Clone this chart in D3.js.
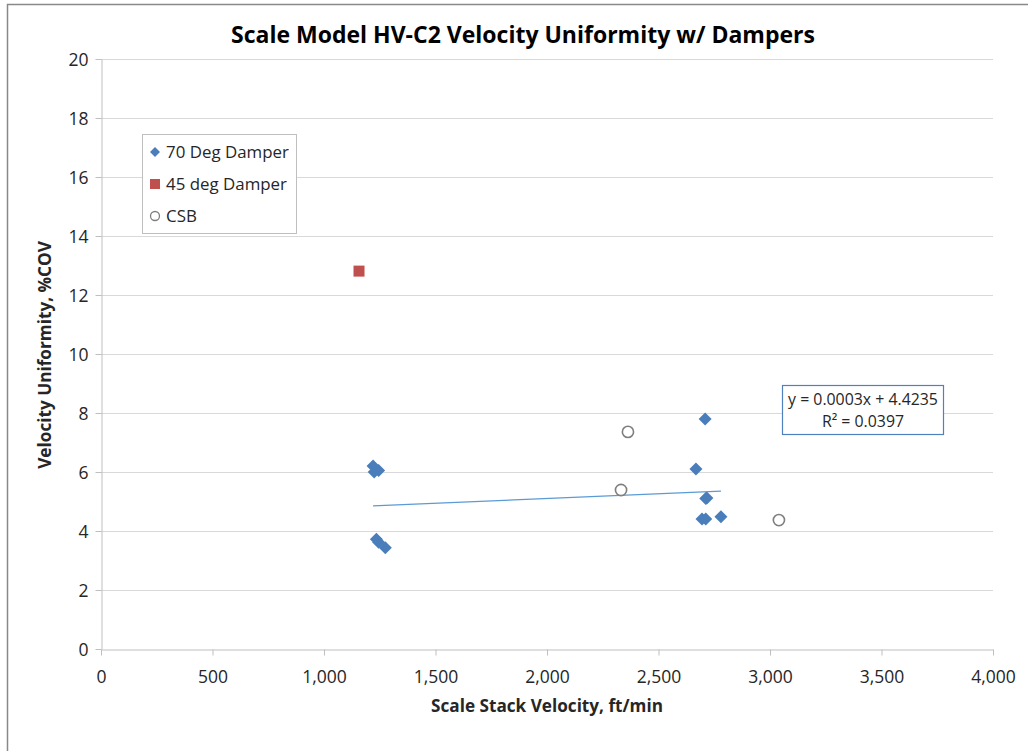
<!DOCTYPE html>
<html><head><meta charset="utf-8">
<script src="https://cdn.jsdelivr.net/npm/d3@7"></script>
<style>body{margin:0;background:#fff}svg{display:block}text{font-family:"Open Sans",sans-serif}</style>
</head><body>
<svg id="c" width="1028" height="751"></svg>
<script>
const xTicks = [0,500,1000,1500,2000,2500,3000,3500,4000];
const yTicks = [0,2,4,6,8,10,12,14,16,18,20];
const seriesNames = ["70 Deg Damper","45 deg Damper","CSB"];
const damper70X = [1220,1245,1225,1235,1245,1275,2709,2668,2717,2712,2695,2712,2780];
const damper70Y = [6.2,6.05,6.0,3.72,3.62,3.43,7.8,6.1,5.12,5.1,4.41,4.41,4.48];
const damper45X = [1157];
const damper45Y = [12.81];
const csbX = [2363,2332,3040];
const csbY = [7.36,5.39,4.37];
const trendLabel = ["y = 0.0003x + 4.4235","R² = 0.0397"];

const svg = d3.select("#c");
function fit(sel, w){
  sel.each(function(){
    const fs = parseFloat(this.style.fontSize);
    const cur = this.getComputedTextLength();
    this.style.fontSize = (fs*w/cur).toFixed(2)+"px";
  });
}
// outer chart border
svg.append("rect").attr("x",7.5).attr("y",4.5).attr("width",1100).attr("height",900)
  .attr("fill","none").attr("stroke","#898989").attr("stroke-width",1.5);

const x = d3.scaleLinear().domain([0,4000]).range([101,993]);
const y = d3.scaleLinear().domain([0,20]).range([649,59]);

// gridlines
svg.append("g").selectAll("line").data(yTicks.filter(d=>d>0)).join("line")
  .attr("x1",x(0)).attr("x2",x(4000)).attr("y1",d=>y(d)+0.5).attr("y2",d=>y(d)+0.5)
  .attr("stroke","#d9d9d9").attr("stroke-width",1);

// axes
const fmt = d3.format(",");
const xAxis = svg.append("g").attr("transform",`translate(0,${y(0)+0.5})`)
  .call(d3.axisBottom(x).tickValues(xTicks).tickFormat(fmt).tickSize(6).tickSizeOuter(0));
const yAxis = svg.append("g").attr("transform",`translate(${x(0)+0.5},0)`)
  .call(d3.axisLeft(y).tickValues(yTicks).tickSize(6).tickSizeOuter(0));
[xAxis,yAxis].forEach(a=>{
  a.select(".domain").attr("stroke","#bfbfbf");
  a.selectAll(".tick line").attr("stroke","#bfbfbf");
  a.selectAll("text").attr("fill","#262626").style("font-size","17.5px").style("font-family","'Open Sans',sans-serif");
});
xAxis.selectAll("text").attr("dy","0").attr("y",33.5);
yAxis.selectAll("text").attr("x",-13).attr("dy","0.36em");

// trendline (least squares over 70 deg series)
const n = damper70X.length;
const mx = d3.mean(damper70X), my = d3.mean(damper70Y);
let sxy=0, sxx=0;
for(let i=0;i<n;i++){sxy+=(damper70X[i]-mx)*(damper70Y[i]-my);sxx+=(damper70X[i]-mx)**2;}
const slope = sxy/sxx, icpt = my - slope*mx;
const [x0,x1] = d3.extent(damper70X);
svg.append("line").attr("x1",x(x0)).attr("y1",y(icpt+slope*x0)).attr("x2",x(x1)).attr("y2",y(icpt+slope*x1))
  .attr("stroke","#5b9bd5").attr("stroke-width",1.2);

// markers
function diamondPath(s){return `M0,${-s}L${s},0L0,${s}L${-s},0Z`;}
svg.append("g").selectAll("path").data(d3.range(n)).join("path")
  .attr("d",diamondPath(6.5)).attr("transform",i=>`translate(${x(damper70X[i])},${y(damper70Y[i])})`)
  .attr("fill","#4a7ebb");
svg.append("g").selectAll("rect").data(d3.range(damper45X.length)).join("rect")
  .attr("x",i=>x(damper45X[i])-5.5).attr("y",i=>y(damper45Y[i])-5.5).attr("width",11).attr("height",11)
  .attr("fill","#c0504d");
svg.append("g").selectAll("circle").data(d3.range(csbX.length)).join("circle")
  .attr("cx",i=>x(csbX[i])).attr("cy",i=>y(csbY[i])).attr("r",5.6)
  .attr("fill","#fff").attr("stroke","#7f7f7f").attr("stroke-width",1.6);

// trend label box
svg.append("rect").attr("x",782.5).attr("y",385.5).attr("width",161).attr("height",49)
  .attr("fill","#fff").attr("stroke","#4f81bd").attr("stroke-width",1.2);
const eq = svg.append("g").selectAll("text").data(trendLabel).join("text")
  .attr("x",863).attr("y",(d,i)=>405+i*22).attr("text-anchor","middle")
  .style("font-size","16px").attr("fill","#262626").text(d=>d);
fit(eq.filter((d,i)=>i===0),150);
eq.filter((d,i)=>i===1).style("font-size",eq.filter((d,i)=>i===0).style("font-size"));

// legend
svg.append("rect").attr("x",142.5).attr("y",134.5).attr("width",154).attr("height",99)
  .attr("fill","#fff").attr("stroke","#bfbfbf").attr("stroke-width",1);
const lg = svg.append("g");
const ly = [152,184,216];
lg.append("path").attr("d",diamondPath(5)).attr("transform",`translate(155,${ly[0]})`).attr("fill","#4a7ebb");
lg.append("rect").attr("x",150).attr("y",ly[1]-5).attr("width",10).attr("height",10).attr("fill","#c0504d");
lg.append("circle").attr("cx",155).attr("cy",ly[2]).attr("r",4.5).attr("fill","#fff").attr("stroke","#7f7f7f").attr("stroke-width",1.3);
const lt = lg.selectAll("text").data(seriesNames).join("text")
  .attr("x",166).attr("y",(d,i)=>ly[i]).attr("dy","0.36em")
  .style("font-size","16px").attr("fill","#262626").text(d=>d);
fit(lt.filter((d,i)=>i===0),123);
lt.style("font-size",lt.filter((d,i)=>i===0).style("font-size"));

// titles
const tt = svg.append("text").attr("x",523).attr("y",43).attr("text-anchor","middle")
  .style("font-size","20px").style("font-weight","bold").attr("fill","#000")
  .text("Scale Model HV-C2 Velocity Uniformity w/ Dampers");
fit(tt,584);
const xt = svg.append("text").attr("x",547).attr("y",712).attr("text-anchor","middle")
  .style("font-size","16px").style("font-weight","bold").attr("fill","#262626")
  .text("Scale Stack Velocity, ft/min");
fit(xt,232);
const yt = svg.append("text").attr("transform","translate(51,355) rotate(-90)").attr("text-anchor","middle")
  .style("font-size","16px").style("font-weight","bold").attr("fill","#262626")
  .text("Velocity Uniformity, %COV");
fit(yt,228);
</script>
</body></html>
